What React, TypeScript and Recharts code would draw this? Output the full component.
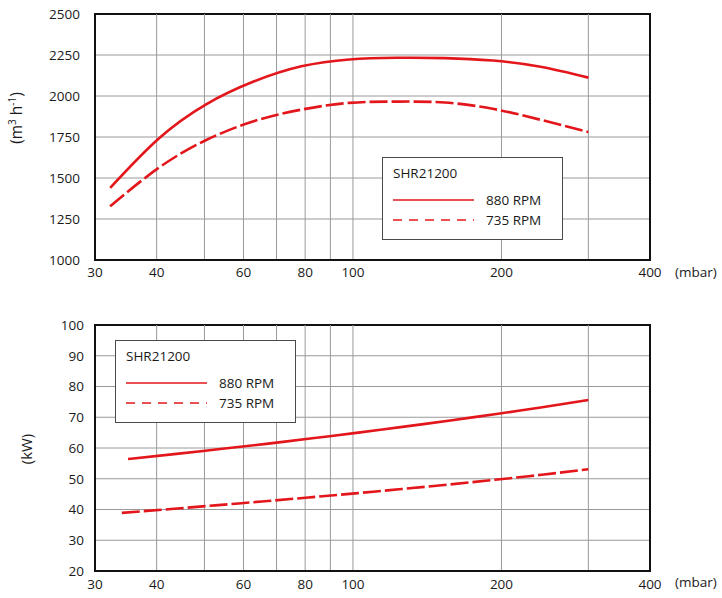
import React from 'react';
import {
  LineChart,
  Line,
  XAxis,
  YAxis,
  CartesianGrid,
  ReferenceLine,
  ReferenceArea,
} from 'recharts';

// pressure (mbar) ticks and grid positions, shared by both charts
const pressureTicks = [30, 40, 60, 80, 100, 200, 400];
const pressureGrid = [40, 50, 60, 70, 80, 90, 100, 200, 300];

// flow chart (m3/h), read at evenly log-spaced pressures
const flowTicks = [1000, 1250, 1500, 1750, 2000, 2250, 2500];
const flowPressure = [32.2, 40.3, 50.3, 62.9, 78.6, 98.3, 122.9, 153.6, 192, 240, 300];
const flow880 = [1440, 1738, 1948, 2088, 2181, 2223, 2233, 2231, 2216, 2178, 2112];
const flow735 = [1327, 1560, 1730, 1846, 1917, 1958, 1966, 1960, 1922, 1855, 1780];

// power chart (kW)
const powerTicks = [20, 30, 40, 50, 60, 70, 80, 90, 100];
const powerPressure880 = [35, 43.4, 53.8, 66.7, 82.7, 102.5, 127.1, 157.5, 195.3, 242, 300];
const power880 = [56.4, 58.0, 59.65, 61.35, 63.15, 65.0, 66.95, 68.95, 71.05, 73.25, 75.6];
const powerPressure735 = [34, 42.3, 52.6, 65.3, 81.2, 101, 125.5, 156.1, 194, 241.3, 300];
const power735 = [38.9, 40.1, 41.35, 42.6, 43.9, 45.25, 46.65, 48.1, 49.65, 51.3, 53.1];

const modelName = 'SHR21200';
const seriesNames = ['880 RPM', '735 RPM'];

const RED = '#e3161b';
const GRID = '#9a9a9a';
const FONT = '"Open Sans", sans-serif';

const toRows = (xs: number[], ys: number[]) => xs.map((p, i) => ({ p, v: ys[i] }));

const LegendBox = ({ left, top }: { left: number; top: number }) => (
  <div
    style={{
      position: 'absolute',
      left,
      top,
      width: 179,
      height: 81,
      border: '1px solid #4a4a4a',
      background: '#fff',
      fontSize: 13.5,
      color: '#1a1a1a',
    }}
  >
    <div style={{ position: 'absolute', left: 10, top: 6 }}>{modelName}</div>
    {seriesNames.map((name, i) => (
      <div key={name} style={{ position: 'absolute', left: 10, top: 32 + i * 20, height: 20, width: 170 }}>
        <svg width={82} height={20} style={{ position: 'absolute', left: 0, top: 0 }}>
          <line
            x1={0}
            x2={81}
            y1={10}
            y2={10}
            stroke={RED}
            strokeWidth={1.6}
            strokeDasharray={i === 1 ? '9 7' : undefined}
          />
        </svg>
        <span style={{ position: 'absolute', left: 93, top: 0, lineHeight: '20px' }}>{name}</span>
      </div>
    ))}
  </div>
);

type PanelProps = {
  top: number;
  height: number;
  marginTop: number;
  xAxisHeight: number;
  xTickOffset: number;
  yTickOffset: number;
  yDomain: [number, number];
  yTicks: number[];
  solid: { p: number; v: number }[];
  dashed: { p: number; v: number }[];
};

const Panel = ({ top, height, marginTop, xAxisHeight, xTickOffset, yTickOffset, yDomain, yTicks, solid, dashed }: PanelProps) => (
  <div style={{ position: 'absolute', left: 0, top }}>
    <LineChart width={722} height={height} margin={{ top: marginTop, right: 72, left: 0, bottom: 0 }}>
      <CartesianGrid vertical={false} stroke={GRID} />
      <XAxis
        dataKey="p"
        type="number"
        scale="log"
        domain={[30, 400]}
        ticks={pressureTicks}
        allowDataOverflow
        height={xAxisHeight}
        tickLine={false}
        tickSize={xTickOffset}
        tickMargin={0}
        axisLine={{ stroke: '#111', strokeWidth: 2 }}
        tick={{ fill: '#1a1a1a', fontSize: 13.5, fontFamily: FONT }}
      />
      <YAxis
        type="number"
        domain={yDomain}
        ticks={yTicks}
        width={95}
        tickLine={false}
        tickSize={yTickOffset}
        tickMargin={0}
        axisLine={{ stroke: '#111', strokeWidth: 2 }}
        tick={{ fill: '#1a1a1a', fontSize: 13.5, fontFamily: FONT }}
      />
      {pressureGrid.map((g) => (
        <ReferenceLine key={g} x={g} stroke={GRID} strokeWidth={1} />
      ))}
      <ReferenceArea
        x1={30}
        x2={400}
        y1={yDomain[0]}
        y2={yDomain[1]}
        fill="none"
        stroke="#111"
        strokeWidth={2}
        fillOpacity={0}
      />
      <Line
        data={solid}
        dataKey="v"
        type="natural"
        stroke={RED}
        strokeWidth={2.6}
        dot={false}
        isAnimationActive={false}
      />
      <Line
        data={dashed}
        dataKey="v"
        type="natural"
        stroke={RED}
        strokeWidth={2.6}
        strokeDasharray="18 4"
        dot={false}
        isAnimationActive={false}
      />
    </LineChart>
  </div>
);

const App = () => {
  return (
    <div
      style={{
        position: 'absolute',
        left: 0,
        top: 0,
        width: 722,
        height: 598,
        background: '#fff',
        fontFamily: FONT,
        color: '#1a1a1a',
      }}
    >
      <Panel
        top={0}
        height={290}
        marginTop={14}
        xAxisHeight={30}
        xTickOffset={7}
        yTickOffset={15}
        yDomain={[1000, 2500]}
        yTicks={flowTicks}
        solid={toRows(flowPressure, flow880)}
        dashed={toRows(flowPressure, flow735)}
      />
      <Panel
        top={300}
        height={298}
        marginTop={25}
        xAxisHeight={27}
        xTickOffset={8}
        yTickOffset={11}
        yDomain={[20, 100]}
        yTicks={powerTicks}
        solid={toRows(powerPressure880, power880)}
        dashed={toRows(powerPressure735, power735)}
      />

      <LegendBox left={382} top={157} />
      <LegendBox left={115} top={340} />

      <div
        style={{
          position: 'absolute',
          left: 16,
          top: 118,
          transform: 'translate(-50%, -50%) rotate(-90deg)',
          whiteSpace: 'nowrap',
          fontSize: 15.5,
        }}
      >
        (m<sup style={{ fontSize: 10 }}>3</sup> h<sup style={{ fontSize: 10 }}>-1</sup>)
      </div>
      <div
        style={{
          position: 'absolute',
          left: 26,
          top: 449,
          transform: 'translate(-50%, -50%) rotate(-90deg)',
          whiteSpace: 'nowrap',
          fontSize: 15,
        }}
      >
        (kW)
      </div>
      <div style={{ position: 'absolute', left: 675, top: 263, fontSize: 13.5 }}>(mbar)</div>
      <div style={{ position: 'absolute', left: 675, top: 573, fontSize: 13.5 }}>(mbar)</div>
    </div>
  );
};

export default App;
